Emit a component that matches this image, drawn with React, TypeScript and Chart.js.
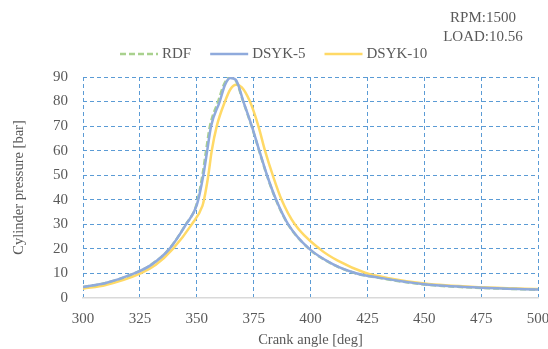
import React, { useEffect, useRef } from 'react';
import { Chart, registerables } from 'chart.js';

Chart.register(...registerables);

// Crank angle [deg] / cylinder pressure [bar] per series
const rdfAngles = [
  300, 310, 322.5, 330, 338, 345.2, 349.8, 352.5, 354.1, 355.8, 359.4, 362, 364.5, 367, 370.4, 374.1,
  377.4, 380.8, 384.8, 390.1, 399.4, 410, 420, 430, 450, 475, 500,
];
const rdf = [
  4.5, 6.1, 10, 13.6, 20.1, 30, 37.8, 50, 60, 70, 80, 87, 89.8, 88.8, 80, 70,
  60, 50, 40, 30, 20, 13.6, 10, 8.2, 5.5, 4.1, 3.4,
];

const dsyk5Angles = [
  300, 310, 322.5, 330, 338, 345.3, 350, 352.9, 354.6, 356.3, 360.1, 362.5, 364.8, 367.2, 370.5, 374.2,
  377.5, 380.9, 384.9, 390.2, 399.5, 410, 420, 430, 450, 475, 500,
];
const dsyk5 = [
  4.5, 6.1, 10, 13.5, 20, 30, 37.8, 50, 60, 70, 80, 87, 89.6, 88.8, 80, 70,
  60, 50, 40, 30, 20, 13.7, 10.1, 8.3, 5.6, 4.2, 3.5,
];

const dsyk10Angles = [
  300, 310, 325.3, 332, 339.5, 347.8, 352.5, 353.3, 355.1, 356.6, 358.8, 362.4, 364.8, 367.3, 369.8, 373.4,
  377.1, 380, 383.4, 387.3, 393.1, 404, 412, 424, 435, 450, 475, 500,
];
const dsyk10 = [
  3.8, 5.3, 10, 13.5, 20, 30, 37.5, 40.5, 50, 60, 70, 80, 85, 86.8, 85.8, 80,
  70, 60, 50, 40, 30, 20, 15.2, 10.3, 8.0, 5.9, 4.4, 3.7,
];

const seriesNames = ['RDF', 'DSYK-5', 'DSYK-10'];
const seriesColors = ['#A9D18E', '#8FAADC', '#FFD966'];
const seriesDash = [[6, 3], [], []];
const seriesOrder = [1, 0, 2];
const annotationLines = ['RPM:1500', 'LOAD:10.56'];
const xTitle = 'Crank angle [deg]';
const yTitle = 'Cylinder pressure [bar]';

const FONT = '"Liberation Serif", "Times New Roman", serif';
const TEXT = '#595959';
const GRID = '#5B9BD5';

const overlayPlugin = {
  id: 'overlay',
  afterDraw(chart: any) {
    const ctx = chart.ctx as CanvasRenderingContext2D;
    ctx.save();
    ctx.fillStyle = TEXT;
    ctx.font = `15px ${FONT}`;
    ctx.textAlign = 'center';
    ctx.textBaseline = 'middle';
    ctx.fillText(annotationLines[0], 483, 18);
    ctx.fillText(annotationLines[1], 483, 37);

    // legend
    ctx.textAlign = 'left';
    let x = 120;
    const y = 54;
    chart.data.datasets.forEach((ds: any) => {
      ctx.save();
      ctx.strokeStyle = ds.borderColor;
      ctx.lineWidth = 2.5;
      ctx.setLineDash(ds.borderDash || []);
      ctx.beginPath();
      ctx.moveTo(x, y);
      ctx.lineTo(x + 38, y);
      ctx.stroke();
      ctx.restore();
      ctx.fillStyle = TEXT;
      ctx.fillText(ds.label, x + 42, y);
      const w = ctx.measureText(ds.label).width;
      x += 42 + w + 19;
    });
    ctx.restore();
  },
};

export default function App() {
  const ref = useRef<HTMLCanvasElement | null>(null);

  useEffect(() => {
    if (!ref.current) return;
    const mk = (xs: number[], vals: number[]) => xs.map((a, i) => ({ x: a, y: vals[i] }));
    const allAngles = [rdfAngles, dsyk5Angles, dsyk10Angles];
    const allVals = [rdf, dsyk5, dsyk10];
    const chart = new Chart(ref.current, {
      type: 'line',
      data: {
        datasets: seriesNames.map((name, i) => ({
          label: name,
          data: mk(allAngles[i], allVals[i]),
          borderColor: seriesColors[i],
          backgroundColor: seriesColors[i],
          borderDash: seriesDash[i],
          borderWidth: 2.5,
          pointRadius: 0,
          order: seriesOrder[i],
          cubicInterpolationMode: 'monotone' as const,
          fill: false,
        })),
      },
      options: {
        animation: false,
        responsive: false,
        maintainAspectRatio: false,
        layout: { padding: { top: 77, right: 10, left: 0, bottom: 0 } },
        plugins: {
          legend: { display: false },
          tooltip: { enabled: false },
        },
        scales: {
          x: {
            type: 'linear',
            min: 300,
            max: 500,
            ticks: {
              stepSize: 25,
              color: TEXT,
              font: { family: FONT, size: 15 },
              padding: 12,
              maxRotation: 0,
              autoSkip: false,
            },
            grid: { color: GRID, lineWidth: 1, drawTicks: false },
            border: { display: true, color: '#D9D9D9', width: 1.5, dash: [4, 3] },
            title: {
              display: true,
              text: xTitle,
              color: TEXT,
              font: { family: FONT, size: 14.5 },
              padding: { top: 0, bottom: 0 },
            },
            afterFit(scale: any) {
              scale.height = 51;
              scale.paddingLeft = 0;
              scale.paddingRight = 0;
            },
          },
          y: {
            type: 'linear',
            min: 0,
            max: 90,
            ticks: {
              stepSize: 10,
              color: TEXT,
              font: { family: FONT, size: 15 },
              padding: 15,
            },
            grid: {
              color: (c: any) => (c.tick && c.tick.value === 0 ? 'rgba(0,0,0,0)' : GRID),
              lineWidth: 1,
              drawTicks: false,
            },
            border: { display: false, dash: [4, 3] },
            title: {
              display: true,
              text: yTitle,
              color: TEXT,
              font: { family: FONT, size: 14.5 },
              padding: { top: 10, bottom: 0 },
            },
            afterFit(scale: any) {
              scale.width = 83;
              scale.paddingTop = 0;
              scale.paddingBottom = 0;
            },
          },
        },
      },
      plugins: [overlayPlugin],
    });
    return () => chart.destroy();
  }, []);

  return (
    <div style={{ position: 'fixed', left: 0, top: 0, width: 548, height: 349, background: '#fff' }}>
      <canvas ref={ref} width={548} height={349} style={{ display: 'block' }} />
    </div>
  );
}
